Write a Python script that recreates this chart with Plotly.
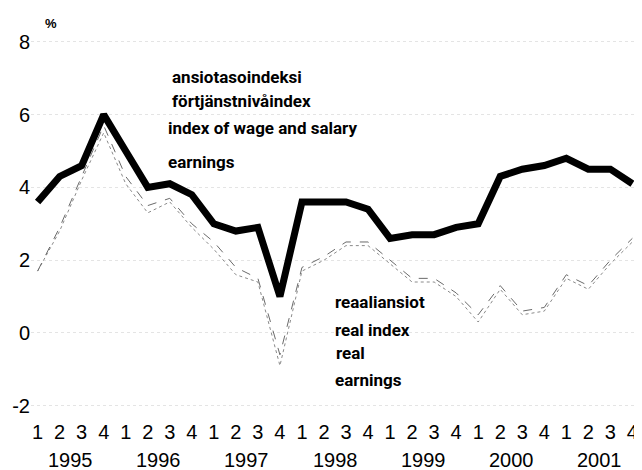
import plotly.graph_objects as go

quarters = ["1", "2", "3", "4"] * 7
years = ["1995", "1996", "1997", "1998", "1999", "2000", "2001"]
wage_index = [3.6, 4.3, 4.6, 6.0, 5.0, 4.0, 4.1, 3.8, 3.0, 2.8, 2.9, 1.0,
              3.6, 3.6, 3.6, 3.4, 2.6, 2.7, 2.7, 2.9, 3.0, 4.3, 4.5, 4.6,
              4.8, 4.5, 4.5, 4.1]
real_index = [1.7, 2.9, 4.3, 5.7, 4.3, 3.5, 3.7, 3.0, 2.5, 1.8, 1.5, -0.6,
              1.8, 2.1, 2.5, 2.5, 2.0, 1.5, 1.5, 1.1, 0.5, 1.3, 0.6, 0.7,
              1.6, 1.3, 2.0, 2.6]
real_earnings = [1.7, 2.8, 4.2, 5.5, 4.1, 3.3, 3.6, 2.9, 2.3, 1.6, 1.4, -0.9,
                 1.7, 2.0, 2.4, 2.4, 1.9, 1.4, 1.4, 1.0, 0.3, 1.2, 0.5, 0.6,
                 1.5, 1.2, 1.9, 2.5]
y_ticks = [-2, 0, 2, 4, 6, 8]
y_tick_labels = ["-2", "0", "2", "4", "6", "8"]

x = list(range(len(quarters)))

fig = go.Figure()
fig.add_trace(go.Scatter(x=x, y=real_earnings, mode="lines",
                         line=dict(color="#8a8a8a", width=1, dash="dot")))
fig.add_trace(go.Scatter(x=x, y=real_index, mode="lines",
                         line=dict(color="#6a6a6a", width=1, dash="dash")))
fig.add_trace(go.Scatter(x=x, y=wage_index, mode="lines",
                         line=dict(color="#000000", width=7)))

label_font = dict(family="Roboto, Liberation Sans, sans-serif", size=17, color="#000")

OFF = 8  # page offset of the figure inside the window
W, H = 642 - OFF, 470 - OFF
L, R, T, B = 23, 3, 12, 57
pw, ph = W - L - R, H - T - B


def px_to_paper(px, py):
    return (px - OFF - L) / pw, 1 - (py - OFF - T) / ph


anns = []
for txt, xx, yy in [("<b>ansiotasoindeksi</b>", 170, 77),
                    ("<b>förtjänstnivåindex</b>", 170, 101),
                    ("<b>index of wage and salary</b>", 166, 128),
                    ("<b>earnings</b>", 166, 162),
                    ("<b>reaaliansiot</b>", 333, 302),
                    ("<b>real index</b>", 333, 330),
                    ("<b>real</b>", 334, 353),
                    ("<b>earnings</b>", 333, 380)]:
    ax, ay = px_to_paper(xx, yy)
    anns.append(dict(text=txt, x=ax, y=ay, xref="paper", yref="paper",
                     xanchor="left", yanchor="middle", showarrow=False, font=label_font))

_, year_y = px_to_paper(0, 460)
for i, yr in enumerate(years):
    anns.append(dict(text=yr, x=4 * i + 1.5, y=year_y, xref="x", yref="paper",
                     showarrow=False, xanchor="center", yanchor="middle",
                     font=dict(family="Liberation Sans, Arial, sans-serif", size=20, color="#000")))

pxp, pyp = px_to_paper(51, 23)
anns.append(dict(text="<b>%</b>", x=pxp, y=pyp, xref="paper", yref="paper",
                 showarrow=False, xanchor="center", yanchor="middle",
                 font=dict(family="Liberation Sans, Arial, sans-serif", size=13, color="#000")))

fig.update_layout(
    width=W, height=H,
    margin=dict(l=L, r=R, t=T, b=B),
    paper_bgcolor="white", plot_bgcolor="white",
    showlegend=False,
    annotations=anns,
    xaxis=dict(range=[-0.3, 27.3], tickvals=x, ticktext=quarters, showgrid=False,
               zeroline=False, showline=False, ticks="", automargin=False,
               ticklabelstandoff=5,
               tickfont=dict(family="Liberation Sans, Arial, sans-serif", size=20, color="#000")),
    yaxis=dict(range=[-2.2, 8.6], tickvals=y_ticks, ticktext=y_tick_labels, showgrid=True,
               gridcolor="#e4e4e4", griddash="dot", gridwidth=1, automargin=False,
               zeroline=False, showline=False, ticks="", ticklabelstandoff=0,
               tickfont=dict(family="Liberation Sans, Arial, sans-serif", size=20, color="#000")),
)

fig.write_html("out.html")
